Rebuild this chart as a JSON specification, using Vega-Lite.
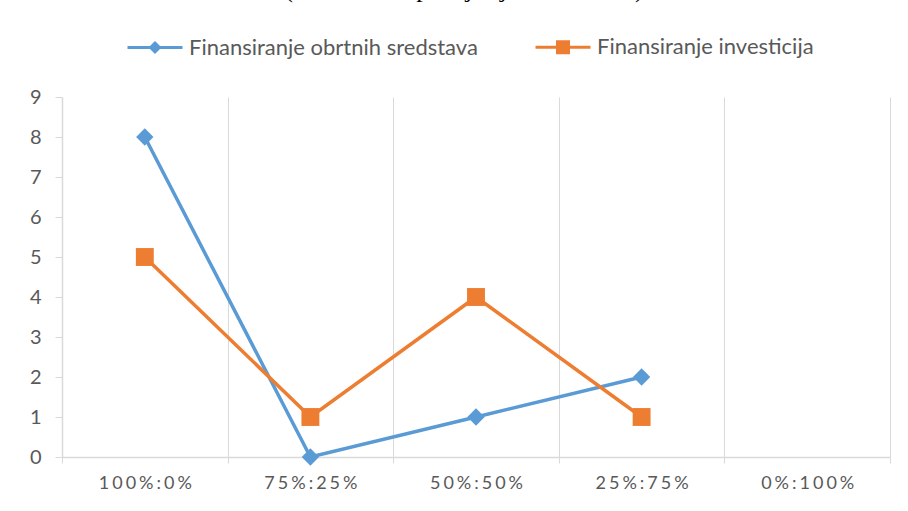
{
  "$schema": "https://vega.github.io/schema/vega-lite/v6.json",
  "width": 828,
  "height": 360,
  "autosize": {"type": "none"},
  "padding": {"left": 62, "top": 97, "right": 18, "bottom": 54},
  "background": "white",
  "title": {
    "text": "(Vlastita vs. pozajmljena sredstva)",
    "font": "Liberation Serif",
    "fontSize": 26,
    "fontWeight": "normal",
    "color": "#000000",
    "anchor": "middle",
    "baseline": "alphabetic",
    "offset": 0,
    "dx": -12,
    "dy": 5
  },
  "config": {
    "view": {"stroke": null},
    "font": "Lato"
  },
  "data": {
    "values": [
      {"omjer": "100%:0%", "serija": "Finansiranje obrtnih sredstava", "vrijednost": 8},
      {"omjer": "75%:25%", "serija": "Finansiranje obrtnih sredstava", "vrijednost": 0},
      {"omjer": "50%:50%", "serija": "Finansiranje obrtnih sredstava", "vrijednost": 1},
      {"omjer": "25%:75%", "serija": "Finansiranje obrtnih sredstava", "vrijednost": 2},
      {"omjer": "100%:0%", "serija": "Finansiranje investicija", "vrijednost": 5},
      {"omjer": "75%:25%", "serija": "Finansiranje investicija", "vrijednost": 1},
      {"omjer": "50%:50%", "serija": "Finansiranje investicija", "vrijednost": 4},
      {"omjer": "25%:75%", "serija": "Finansiranje investicija", "vrijednost": 1}
    ]
  },
  "encoding": {
    "x": {
      "field": "omjer",
      "type": "nominal",
      "sort": null,
      "scale": {"domain": ["100%:0%", "75%:25%", "50%:50%", "25%:75%", "0%:100%"], "paddingInner": 0, "paddingOuter": 0},
      "axis": {
        "title": null,
        "labelAngle": 0,
        "tickBand": "extent",
        "grid": true,
        "gridColor": "#D9D9D9",
        "gridWidth": 1,
        "domainColor": "#D9D9D9",
        "domainWidth": 1.5,
        "tickColor": "#D9D9D9",
        "tickSize": 6,
        "labelFont": "Lato",
        "labelFontSize": 18,
        "labelColor": "#595959",
        "labelPadding": 11,
        "labelExpr": "replace(datum.label, regexp('(.)(?=.)', 'g'), '$1\u2006')"
      }
    },
    "y": {
      "field": "vrijednost",
      "type": "quantitative",
      "scale": {"domain": [0, 9], "nice": false, "zero": true},
      "axis": {
        "title": null,
        "values": [0, 1, 2, 3, 4, 5, 6, 7, 8, 9],
        "grid": false,
        "domainColor": "#D9D9D9",
        "domainWidth": 1.5,
        "tickColor": "#D9D9D9",
        "tickSize": 7,
        "labelFont": "Lato",
        "labelFontSize": 20,
        "labelColor": "#595959",
        "labelPadding": 14
      }
    },
    "color": {
      "field": "serija",
      "type": "nominal",
      "scale": {"domain": ["Finansiranje obrtnih sredstava", "Finansiranje investicija"], "range": ["#5B9BD5", "#ED7D31"]},
      "legend": {
        "title": null,
        "orient": "none",
        "direction": "horizontal",
        "legendX": 64,
        "legendY": -79,
        "symbolSize": 3025,
        "symbolStrokeWidth": 3,
        "symbolType": "M-1,0L1,0",
        "labelFont": "Lato",
        "labelFontSize": 22,
        "labelColor": "#595959",
        "labelLimit": 500,
        "labelOffset": 5,
        "columnPadding": 51,
        "encode": {
          "symbols": {
            "update": {
              "shape": {"signal": "datum.value === 'Finansiranje obrtnih sredstava' ? 'M-1,0L1,0M0,-0.16L0.16,0L0,0.16L-0.16,0Z' : 'M-1,0L1,0M-0.2,-0.2L0.2,-0.2L0.2,0.2L-0.2,0.2Z'"},
              "fill": {"scale": "color", "field": "value"},
              "stroke": {"scale": "color", "field": "value"},
              "strokeWidth": {"value": 3},
              "opacity": {"value": 1},
              "fillOpacity": {"value": 1}
            }
          }
        }
      }
    }
  },
  "layer": [
    {
      "mark": {"type": "line", "strokeWidth": 3.5}
    },
    {
      "transform": [{"filter": "datum.serija === 'Finansiranje obrtnih sredstava'"}],
      "mark": {"type": "point", "filled": true, "opacity": 1, "strokeWidth": 0, "shape": "diamond", "size": 300}
    },
    {
      "transform": [{"filter": "datum.serija === 'Finansiranje investicija'"}],
      "mark": {"type": "point", "filled": true, "opacity": 1, "strokeWidth": 0, "shape": "square", "size": 320}
    }
  ]
}
